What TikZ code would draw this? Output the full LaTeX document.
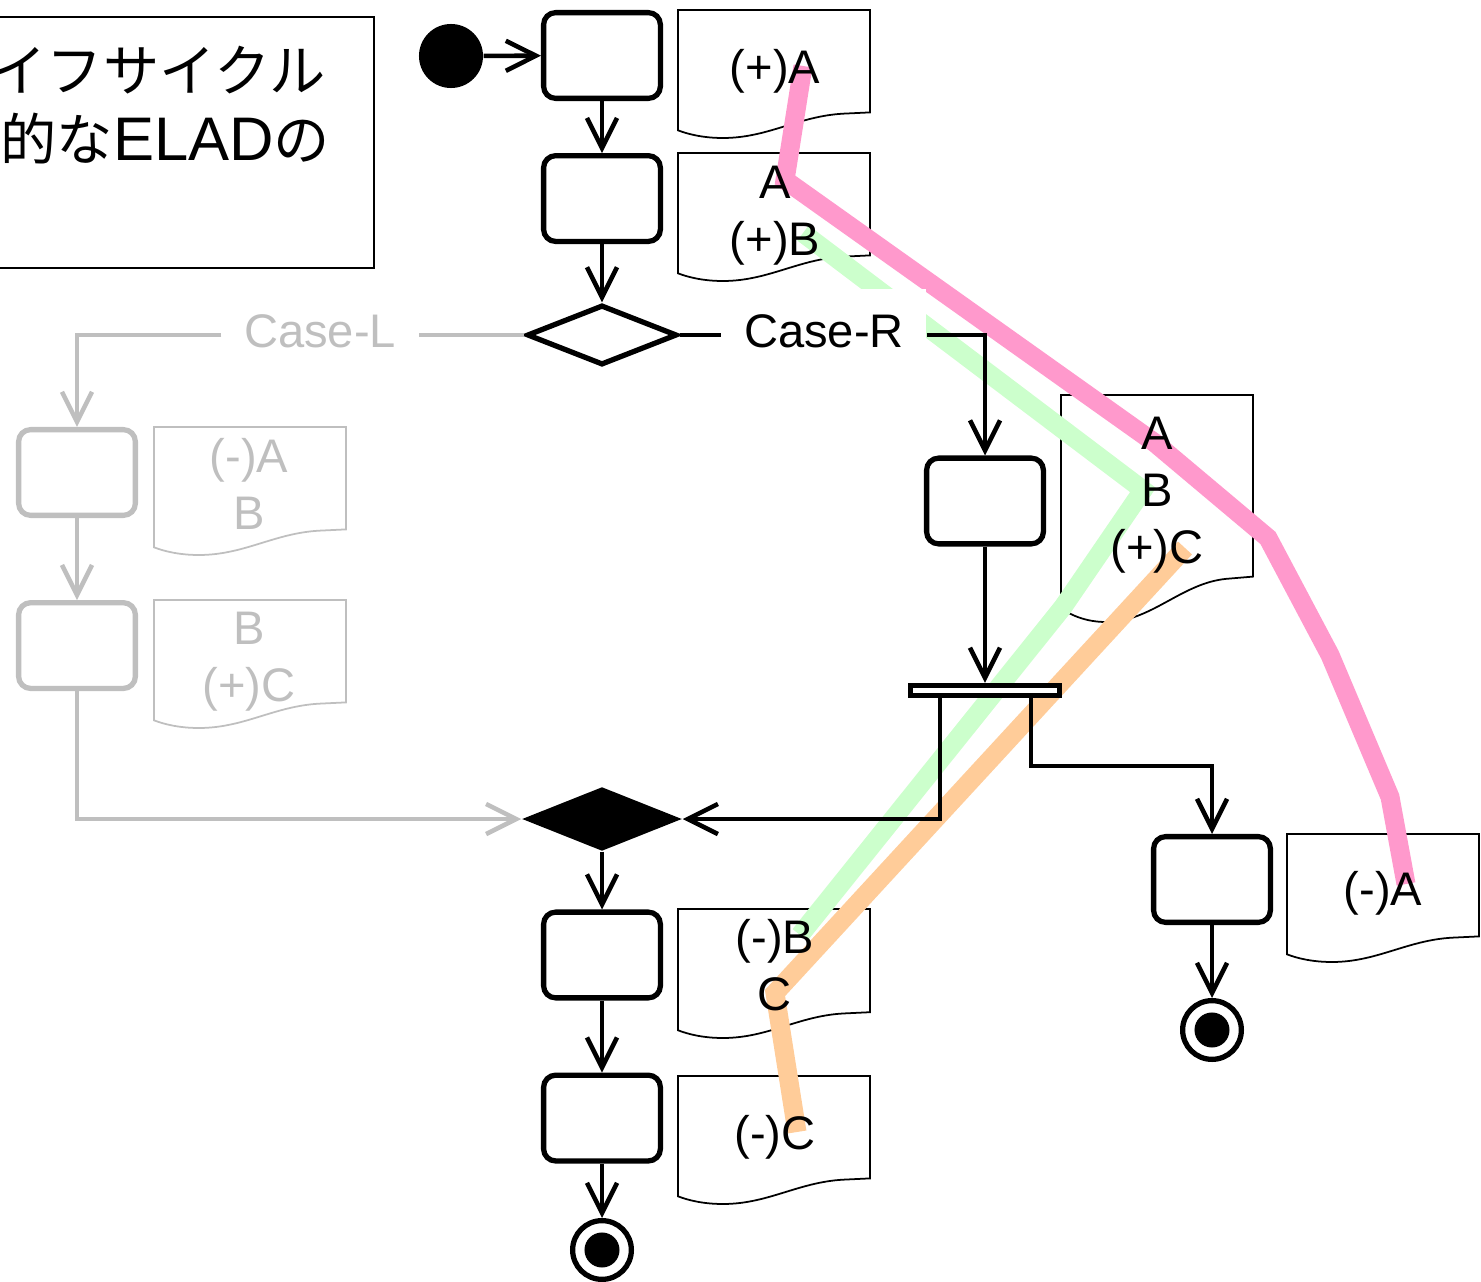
\documentclass[tikz,border=0pt]{standalone}
\usepackage{fontspec}
\setmainfont{Liberation Sans}
\newfontfamily\jpfont{Noto Sans CJK JP}
\usetikzlibrary{positioning,shapes.geometric,arrows.meta}
\definecolor{offgray}{RGB}{191,191,191}
\definecolor{trackA}{RGB}{255,153,204}
\definecolor{trackB}{RGB}{204,255,204}
\definecolor{trackC}{RGB}{255,204,153}
\newcommand{\docshape}[4][]{\draw[docline,#1] (#2,#3) -- (#2+192,#3) -- (#2+192,#3+0.8*#4) -- (#2+165,#3+0.81*#4) .. controls (#2+120,#3+0.83*#4) and (#2+90,#3+#4) .. (#2+45,#3+#4) .. controls (#2+25,#3+#4) and (#2+10,#3+0.97*#4) .. (#2,#3+0.94*#4) -- cycle;}
\tikzset{
  act/.style={draw, line width=1.5pt, rounded corners=0.12cm, fill=white, minimum width=1.167cm, minimum height=0.857cm, inner sep=0},
  actoff/.style={act, draw=offgray},
  branch/.style={diamond, draw, line width=1.5pt, fill=white, minimum width=1.5cm, minimum height=0.6cm, inner sep=0},
  merger/.style={diamond, fill=black, minimum width=1.6cm, minimum height=0.64cm, inner sep=0},
  forkbar/.style={draw, line width=1.5pt, fill=white, minimum width=1.49cm, minimum height=0.1cm, inner sep=0},
  startdot/.style={circle, fill=black, minimum size=0.64cm, inner sep=0},
  enddot/.style={circle, draw, line width=1.5pt, fill=white, minimum size=0.587cm, inner sep=0, path picture={\fill[black] (path picture bounding box.center) circle (0.175cm);}},
  flow/.style={line width=1.3pt, -{Straight Barb[length=0.3cm,width=0.3cm]}},
  flowoff/.style={flow, draw=offgray},
  docline/.style={line width=0.5pt},
  doctext/.style={align=center, inner sep=0, anchor=base, font=\fontsize{13.4}{16.2}\selectfont},
  caselabel/.style={fill=white, inner xsep=0.22cm, inner ysep=0.24cm, text height=0.34cm, text depth=0pt, font=\fontsize{13.4}{16}\selectfont},
  track/.style={line width=5.4pt}
}

\begin{document}
\begin{tikzpicture}[x=0.01cm,y=-0.01cm]
\useasboundingbox (0,0) rectangle (1481,1282);

\node[draw, line width=0.6pt, anchor=north east, minimum width=4.2cm, minimum height=2.51cm, inner sep=0] (titlebox) at (375,16) {};
\node[anchor=base west, inner sep=0, font=\jpfont\fontsize{16}{19}\selectfont] (title1) at (-10,92) {イフサイクル};
\node[anchor=base west, inner sep=0, font=\fontsize{16}{19}\selectfont] (title2) at (0,161) {{\jpfont 的な}{\fontsize{17.5}{19}\selectfont ELAD}{\jpfont の}};

\docshape{678}{10}{128} \docshape{678}{153}{128} \docshape{678}{909}{129} \docshape{678}{1076}{128}
\docshape{1061}{395}{227} \docshape{1287}{834}{128}
\docshape[offgray]{154}{427}{128} \docshape[offgray]{154}{600}{128}

\draw[track, trackA] (803,66) -- (785,180) -- (1155,443) -- (1268,538) -- (1330,655) -- (1390,797) -- (1406,884);
\draw[track, trackB] (803,233) -- (1143,490) -- (1063,607) -- (800,935);
\draw[track, trackC] (1185,548) -- (775,993) -- (797,1132);

\node[startdot] (start) at (451,56) {};
\node[act] (a1) at (602,55.5) {};
\node[act, below=0.52cm of a1] (a2) {};
\node[branch] (dec) at (602,335) {};
\node[caselabel] (caseR) at (824,330) {Case-R};
\node[caselabel, text=offgray] (caseL) at (320,330) {Case-L};
\node[act] (r1) at (985,501) {};
\node[forkbar] (bar) at (985,690.5) {};
\node[act] (r2) at (1212,879.5) {};
\node[enddot] (fin2) at (1212,1030) {};
\node[actoff] (l1) at (77,472.5) {};
\node[actoff, below=0.82cm of l1] (l2) {};
\node[merger] (merge) at (602,819) {};
\node[act] (a5) at (602,955) {};
\node[act, below=0.72cm of a5] (a6) {};
\node[enddot] (fin1) at (602,1250) {};
\coordinate (bend) at (1212,766);

\draw[flow] (start) -- (a1);
\draw[flow] (a1) -- (a2);
\draw[flow] (a2) -- (dec);
\draw[line width=1.3pt] (dec.east) -- (dec.east -| caseR.west);
\draw[flow] (dec.east -| caseR.east) -| (r1);
\draw[flow] (r1) -- (bar);
\draw[flow] ([xshift=-0.45cm]bar.south) |- (merge.east);
\draw[flow] ([xshift=0.46cm]bar.south) |- (bend) -- (r2);
\draw[flow] (r2) -- (fin2);
\draw[line width=1.3pt, offgray] (dec.west) -- (dec.west -| caseL.east);
\draw[flowoff] (dec.west -| caseL.west) -| (l1);
\draw[flowoff] (l1) -- (l2);
\draw[flowoff] (l2) |- (merge.west);
\draw[flow] (merge) -- (a5);
\draw[flow] (a5) -- (a6);
\draw[flow] (a6) -- (fin1);

\node[doctext] (d1) at (775,84) {(+)A};
\node[doctext] (d2) at (775,255) {A\\(+)B};
\node[doctext] (d3) at (1157,563) {A\\B\\(+)C};
\node[doctext] (d4) at (1383,905) {(-)A};
\node[doctext] (d5) at (775,1010) {(-)B\\C};
\node[doctext] (d6) at (775,1149) {(-)C};
\node[doctext, text=offgray] (dl1) at (249,529) {(-)A\\B};
\node[doctext, text=offgray] (dl2) at (249,701) {B\\(+)C};
\end{tikzpicture}
\end{document}
